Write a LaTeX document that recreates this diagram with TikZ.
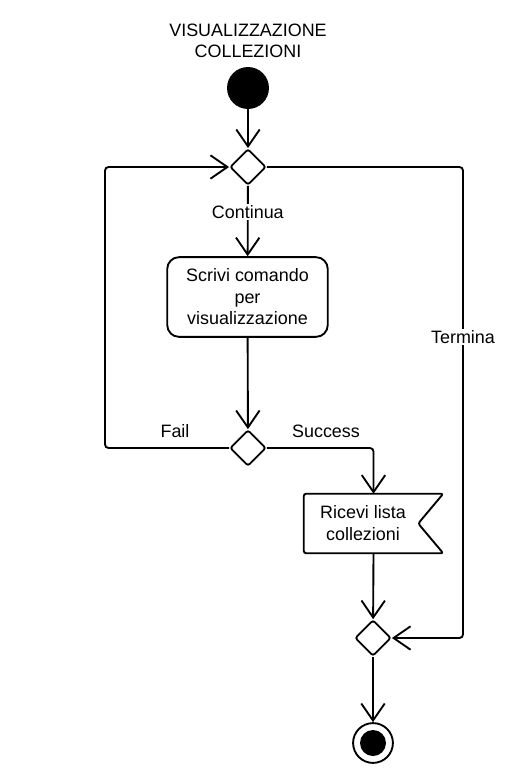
\documentclass[tikz,border=0pt]{standalone}
\usepackage{fontspec}
\setmainfont{Liberation Sans}
\usetikzlibrary{shapes.geometric,arrows.meta,calc}

\tikzset{
    flow/.style={line width=1.6pt, -{Straight Barb[length=14.5pt,width=20pt,line width=1.6pt]}},
    choice/.style={diamond, draw, line width=1.6pt, rounded corners=2pt,
        minimum width=30.7pt, minimum height=30.7pt, inner sep=0pt},
    actbox/.style={rectangle, draw, line width=1.6pt, rounded corners=10pt,
        minimum width=137pt, minimum height=68pt, align=center, inner sep=2pt},
    lbl/.style={font=\fontsize{15.3}{18.4}\selectfont, align=center}
}

\begin{document}
\begin{tikzpicture}[x=0.03cm, y=-0.03cm, every node/.style={lbl}]
        \useasboundingbox (0,0) rectangle (526,774);

        % Start and title
        \node (titolo) at (248,41) {VISUALIZZAZIONE\\COLLEZIONI};
        \node[circle, fill=black, minimum size=35.8pt, inner sep=0pt] (inizio) at (248,88) {};

        % Decision nodes
        \node[choice] (dec1) at (248,167) {};
        \node[choice] (dec2) at (248,448) {};
        \node[choice] (merge) at (373,638) {};

        % Action and receive
        \node[actbox] (scrivi) at (247.5,297) {Scrivi comando\\per\\visualizzazione};
        \node[minimum width=118.6pt, minimum height=50.4pt, inner sep=0pt] (ricevi) at (373.5,523.5) {};
        \draw[line width=1.6pt, rounded corners=2pt] (ricevi.north west) -- (ricevi.north east)
            -- ($(ricevi.east)+(-25,0)$) -- (ricevi.south east) -- (ricevi.south west) -- cycle;
        \node (riceviTxt) at (363,523) {Ricevi lista\\collezioni};

        % End
        \node[circle, draw, line width=1.6pt, minimum size=34pt, inner sep=0pt] (fine) at (373,743) {};
        \fill (fine.center) circle (13);

        % Main flow
        \draw[flow] (inizio) -- (dec1);
        \draw[flow] (dec1) -- (scrivi) node[pos=0.37, fill=white, inner sep=1pt] {Continua};
        \draw[flow] (scrivi) -- (dec2);
        \draw[flow, rounded corners=3pt] (dec2.east) -| (ricevi.north);
        \draw[flow] (ricevi.south) -- (merge);
        \draw[flow] (merge) -- (fine);

        % Loops
        \draw[flow, rounded corners=3pt] (dec2.west) -- (105,448) -- (105,167) -- (dec1.west);
        \draw[flow, rounded corners=3pt] (dec1.east) -- (463,167) -- (463,638) -- (merge.east);
        \node[fill=white, inner sep=1pt] (termina) at (463,337) {Termina};

        % Guards
        \node (fail) at (175,431) {Fail};
        \node (success) at (326,431) {Success};
    \end{tikzpicture}
\end{document}
